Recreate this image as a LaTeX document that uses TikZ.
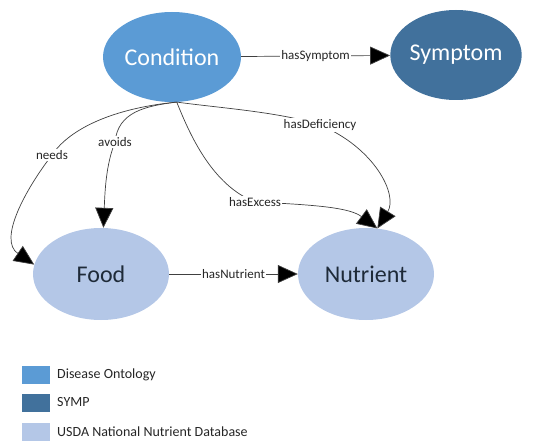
\documentclass[tikz,border=0pt]{standalone}
\usepackage{fontspec}
\setmainfont{Carlito}
\usetikzlibrary{arrows.meta,shapes.geometric}
\definecolor{doblue}{HTML}{5B9BD5}
\definecolor{sympblue}{HTML}{41719C}
\definecolor{usdablue}{HTML}{B4C7E7}
\definecolor{edgegray}{HTML}{404040}
\definecolor{darktext}{HTML}{1E2A38}
\tikzset{
  concept/.style={ellipse, minimum width=136pt, minimum height=92pt, inner sep=0pt, font=\fontsize{24}{28}\selectfont},
  edge/.style={draw=edgegray, line width=0.7pt, -{Triangle[length=20pt,width=18pt,fill=black]}},
  lbl/.style={fill=white, inner sep=1pt, font=\fontsize{13}{15}\selectfont, text=black!85},
  legbox/.style={minimum width=28pt, minimum height=18pt, inner sep=0pt, anchor=west},
  legtxt/.style={anchor=west, inner sep=0pt, font=\fontsize{14}{16}\selectfont, text=black!85}
}
\begin{document}
\begin{tikzpicture}[x=1pt,y=-1pt]
\useasboundingbox (0,0) rectangle (540,441);
\node[concept, fill=doblue, text=white, minimum width=138pt, minimum height=90pt] (cond) at (172,57) {Condition};
\node[concept, fill=sympblue, text=white, minimum width=126pt, minimum height=90pt] (symp) at (456,55) {Symptom};
\node[concept, fill=usdablue, text=darktext] (food) at (101,274) {Food};
\node[concept, fill=usdablue, text=darktext] (nutr) at (366,274) {Nutrient};

\draw[edge] (cond) -- node[lbl] {hasSymptom} (symp);
\draw[edge] (food) -- node[lbl] {hasNutrient} (nutr);

\draw[edge] (cond.-84) .. controls (115,108) and (70,128) .. (52,155) node[lbl] {needs}
  .. controls (25,190) and (-2,240) .. (food.172);
\draw[edge] (cond.-84) .. controls (145,106) and (118,112) .. (115,142) node[lbl] {avoids}
  .. controls (106,165) and (105,190) .. (food.87);
\draw[edge] (cond.-84) .. controls (190,135) and (212,185) .. (255,202) node[lbl] {hasExcess}
  .. controls (320,205) and (350,208) .. (nutr.76);
\draw[edge] (cond.-84) .. controls (220,108) and (280,112) .. (320,125) node[lbl] {hasDeficiency}
  .. controls (375,148) and (398,195) .. (nutr.76);

\node[legbox, fill=doblue] (lg1) at (22,374.5) {};
\node[legbox, fill=sympblue] (lg2) at (22,402.5) {};
\node[legbox, fill=usdablue] (lg3) at (22,431.5) {};
\node[legtxt] (lt1) at (57,374.5) {Disease Ontology};
\node[legtxt] (lt2) at (57,402.5) {SYMP};
\node[legtxt] (lt3) at (57,431.5) {USDA National Nutrient Database};
\end{tikzpicture}
\end{document}
